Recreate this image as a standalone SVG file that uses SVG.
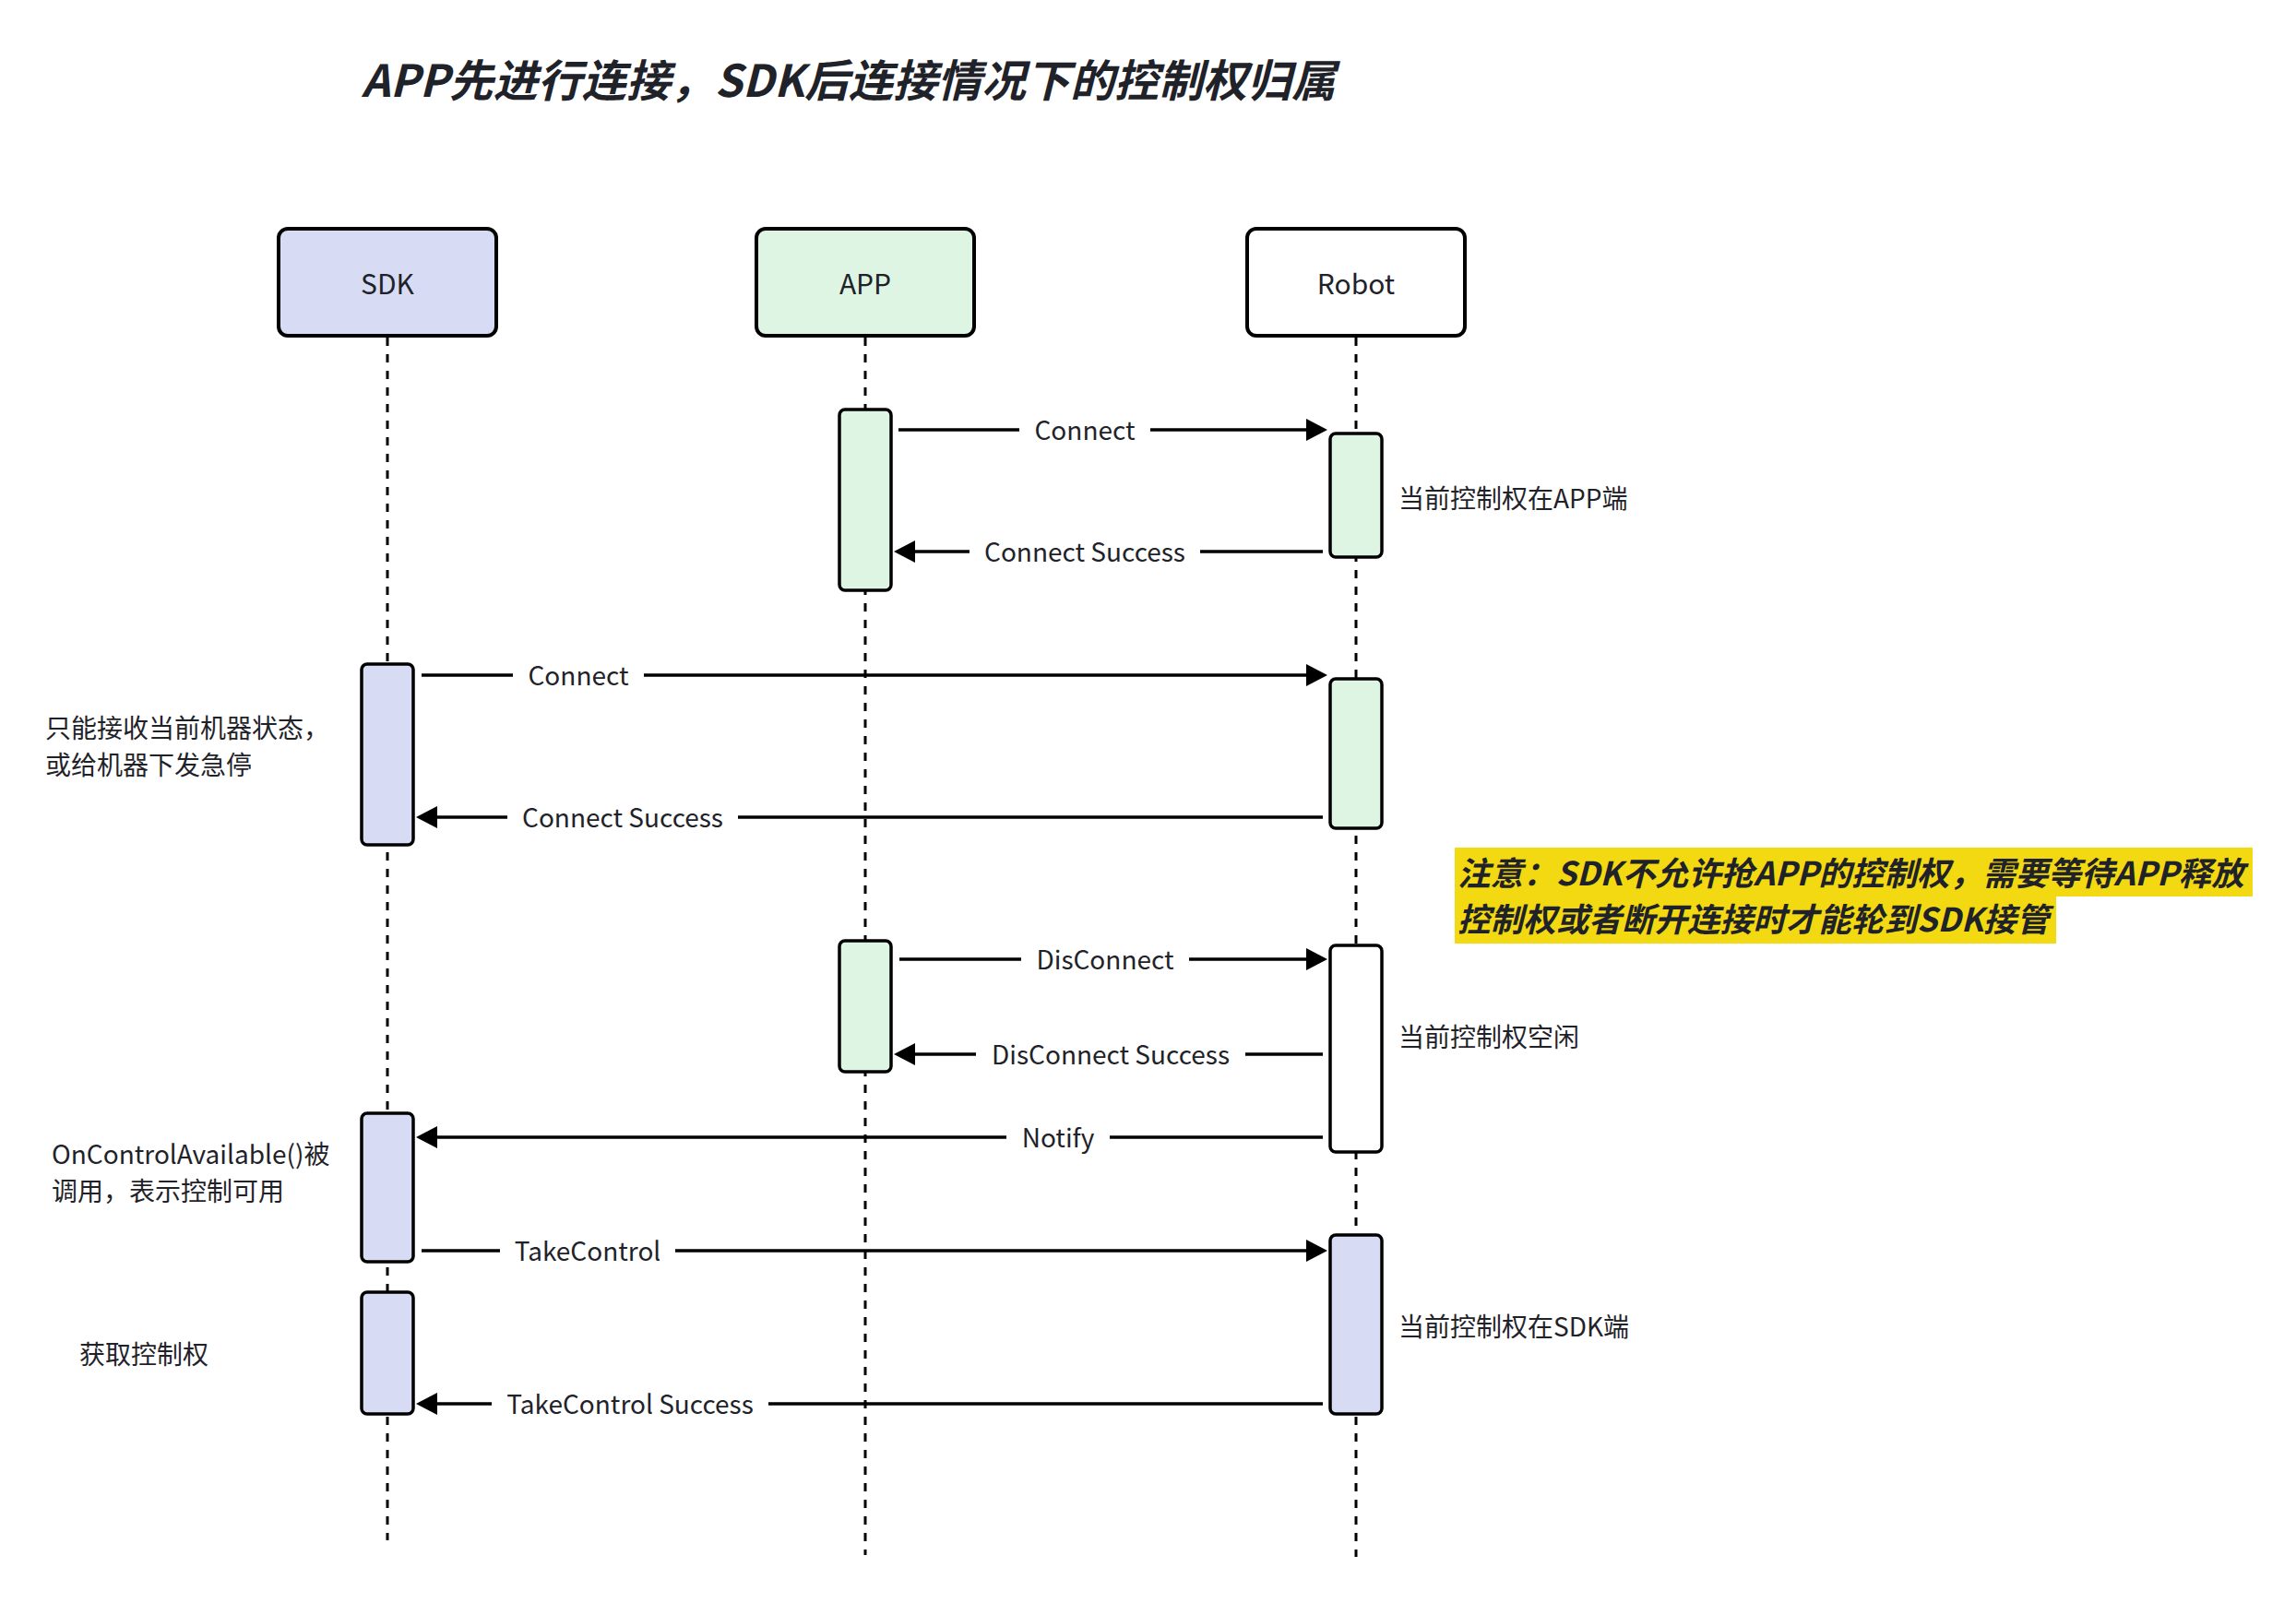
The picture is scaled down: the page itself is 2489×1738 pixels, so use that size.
<svg xmlns="http://www.w3.org/2000/svg" width="2489" height="1738" viewBox="0 0 2489 1738">
<style>
.t{font-family:"Noto Sans CJK SC","Noto Sans",sans-serif;fill:#1f2329}
.hdr{font-size:30px;text-anchor:middle}
.lbl{font-size:28px;text-anchor:middle}
.bg{fill:#fff}
.note{font-size:28px}
.bi{font-weight:bold;font-style:italic}
.box{stroke:#000;stroke-width:4}
.act{stroke:#000;stroke-width:3.5}
.life{stroke:#000;stroke-width:3;stroke-dasharray:9 9;fill:none}
.msg{stroke:#000;stroke-width:3.5;fill:none;marker-end:url(#ah)}
.sdk{fill:#d7dcf4}
.app{fill:#def5e4}
.rob{fill:#fff}
</style>
<defs>
<marker id="ah" markerUnits="userSpaceOnUse" markerWidth="24" markerHeight="26" refX="12" refY="13" orient="auto">
<path d="M0,1 L23,13 L0,25 z" fill="#000"/>
</marker>
</defs>
<rect width="2489" height="1738" fill="#fff"/>
<text class="t bi" x="392" y="105" font-size="48">APP先进行连接，SDK后连接情况下的控制权归属</text>

<g id="lifelines">
<line class="life" x1="420" y1="366" x2="420" y2="1670"/>
<line class="life" x1="938" y1="366" x2="938" y2="1686"/>
<line class="life" x1="1470" y1="366" x2="1470" y2="1688"/>
</g>

<g id="node-sdk">
<rect class="box sdk" x="302" y="248" width="236" height="116" rx="10"/>
<text class="t hdr" x="420" y="319">SDK</text>
</g>
<g id="node-app">
<rect class="box app" x="820" y="248" width="236" height="116" rx="10"/>
<text class="t hdr" x="938" y="319">APP</text>
</g>
<g id="node-robot">
<rect class="box rob" x="1352" y="248" width="236" height="116" rx="10"/>
<text class="t hdr" x="1470" y="319">Robot</text>
</g>

<g id="activations">
<rect class="act app" x="910" y="444" width="56" height="196" rx="6"/>
<rect class="act app" x="1442" y="470" width="56" height="134" rx="6"/>
<rect class="act sdk" x="392" y="720" width="56" height="196" rx="6"/>
<rect class="act app" x="1442" y="736" width="56" height="162" rx="6"/>
<rect class="act app" x="910" y="1020" width="56" height="142" rx="6"/>
<rect class="act rob" x="1442" y="1025" width="56" height="224" rx="6"/>
<rect class="act sdk" x="392" y="1207" width="56" height="161" rx="6"/>
<rect class="act sdk" x="1442" y="1339" width="56" height="194" rx="6"/>
<rect class="act sdk" x="392" y="1401" width="56" height="132" rx="6"/>
</g>

<g id="connectors">
<line class="msg" x1="974" y1="466" x2="1428" y2="466"/>
<rect class="bg" x="1105" y="451" width="142" height="30"/>
<text class="t lbl" x="1176" y="477">Connect</text>
<line class="msg" x1="1434" y1="598" x2="980" y2="598"/>
<rect class="bg" x="1051" y="583" width="250" height="30"/>
<text class="t lbl" x="1176" y="609">Connect Success</text>
<line class="msg" x1="457" y1="732" x2="1428" y2="732"/>
<rect class="bg" x="556" y="717" width="142" height="30"/>
<text class="t lbl" x="627" y="743">Connect</text>
<line class="msg" x1="1434" y1="886" x2="462" y2="886"/>
<rect class="bg" x="550" y="871" width="250" height="30"/>
<text class="t lbl" x="675" y="897">Connect Success</text>
<line class="msg" x1="975" y1="1040" x2="1428" y2="1040"/>
<rect class="bg" x="1107" y="1025" width="182" height="30"/>
<text class="t lbl" x="1198" y="1051">DisConnect</text>
<line class="msg" x1="1434" y1="1143" x2="980" y2="1143"/>
<rect class="bg" x="1058" y="1128" width="292" height="30"/>
<text class="t lbl" x="1204" y="1154">DisConnect Success</text>
<line class="msg" x1="1434" y1="1233" x2="462" y2="1233"/>
<rect class="bg" x="1091" y="1218" width="112" height="30"/>
<text class="t lbl" x="1147" y="1244">Notify</text>
<line class="msg" x1="457" y1="1356" x2="1428" y2="1356"/>
<rect class="bg" x="542" y="1341" width="190" height="30"/>
<text class="t lbl" x="637" y="1367">TakeControl</text>
<line class="msg" x1="1434" y1="1522" x2="462" y2="1522"/>
<rect class="bg" x="533" y="1507" width="300" height="30"/>
<text class="t lbl" x="683" y="1533">TakeControl Success</text>
</g>

<g id="notes">
<text class="t note" x="1516" y="551">当前控制权在APP端</text>
<text class="t note" x="49" y="800">只能接收当前机器状态，</text>
<text class="t note" x="49" y="840">或给机器下发急停</text>
<text class="t note" x="1516" y="1135">当前控制权空闲</text>
<text class="t note" x="56" y="1262">OnControlAvailable()被</text>
<text class="t note" x="56" y="1302">调用，表示控制可用</text>
<text class="t note" x="1516" y="1449">当前控制权在SDK端</text>
<text class="t note" x="86" y="1479">获取控制权</text>
</g>

<g id="warning">
<rect x="1577" y="919" width="865" height="53" fill="#f2d911"/>
<rect x="1577" y="971" width="652" height="52" fill="#f2d911"/>
<text class="t bi" x="1580" y="960" font-size="35.6">注意：SDK不允许抢APP的控制权，需要等待APP释放</text>
<text class="t bi" x="1580" y="1010" font-size="35.6">控制权或者断开连接时才能轮到SDK接管</text>
</g>
</svg>
